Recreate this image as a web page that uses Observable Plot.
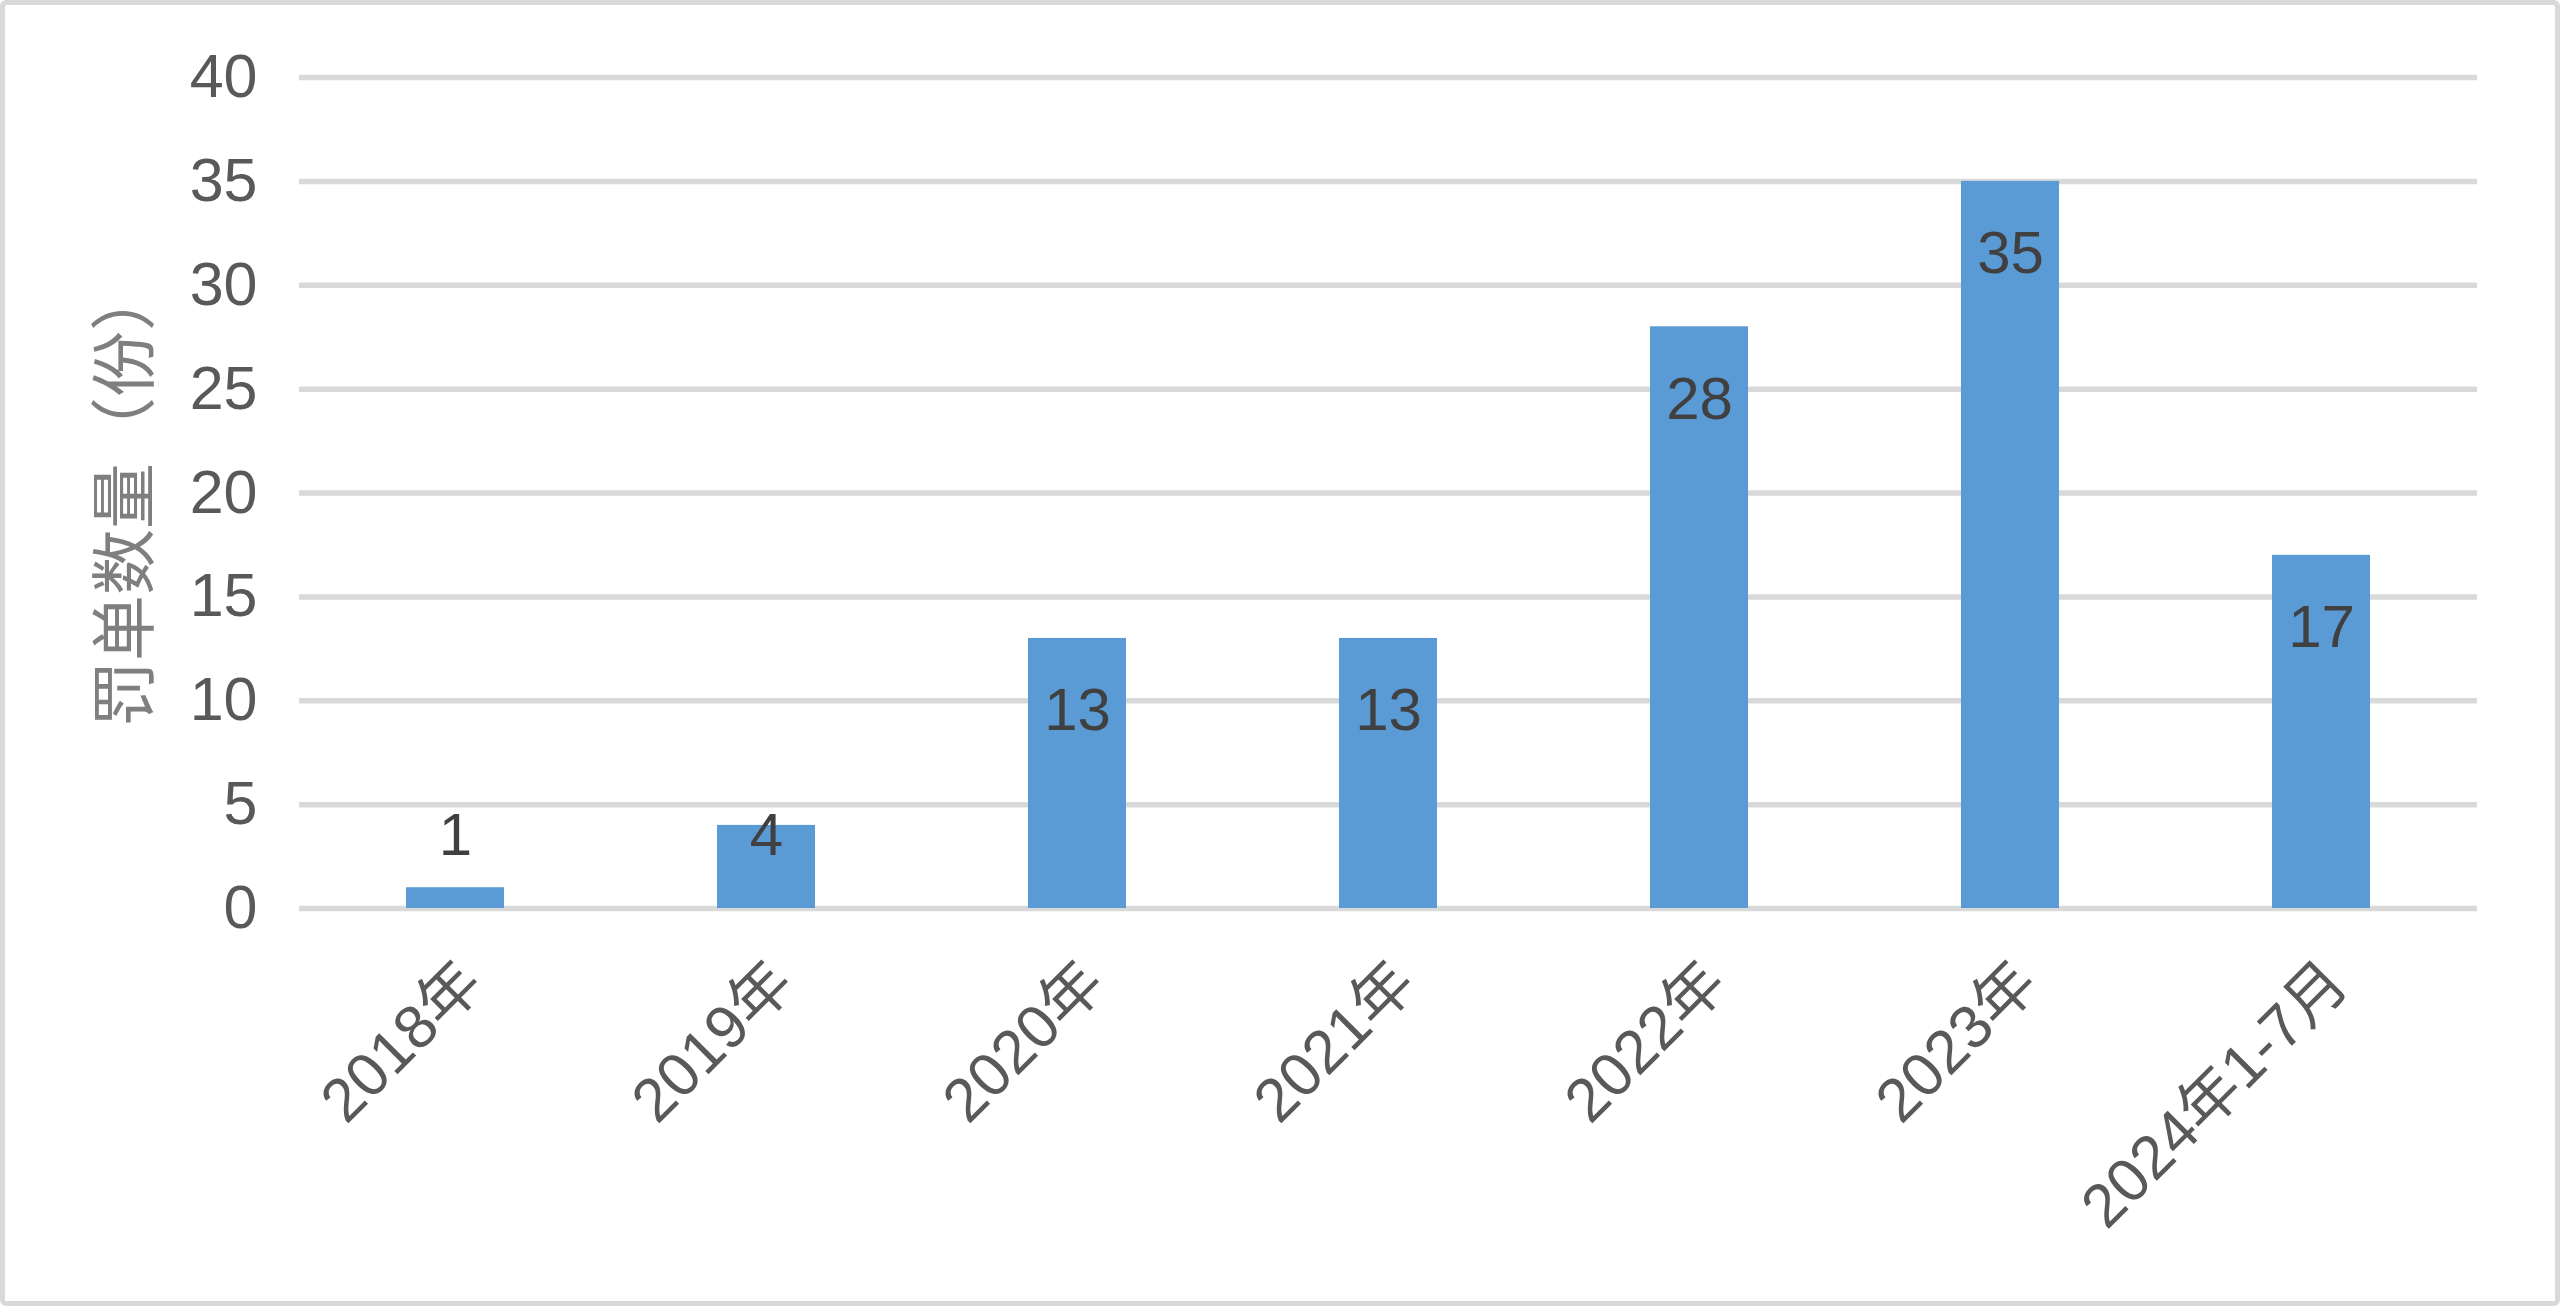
<!DOCTYPE html>
<html>
<head>
<meta charset="utf-8">
<script src="https://cdn.jsdelivr.net/npm/d3@7"></script>
<script src="https://cdn.jsdelivr.net/npm/@observablehq/plot@0.6"></script>
<style>
  html, body { margin: 0; padding: 0; background: #fff; }
  #wrap { position: relative; width: 2560px; height: 1306px; overflow: hidden; }
  #wrap svg { position: absolute; left: 0; top: 0; }
  #border { position: absolute; left: 0; top: 0; width: 2560px; height: 1306px; box-sizing: border-box;
            border: 5px solid #d9d9d9; border-radius: 6px; pointer-events: none; }
</style>
</head>
<body>
<div id="wrap"><div id="border"></div></div>
<script>
const categories = ["2018年", "2019年", "2020年", "2021年", "2022年", "2023年", "2024年1-7月"];
const values = [1, 4, 13, 13, 28, 35, 17];
const yTicks = [0, 5, 10, 15, 20, 25, 30, 35, 40];
const yLabel = "罚单数量（份）";

const data = categories.map((c, i) => ({cat: c, v: values[i]}));
const font = "'Liberation Sans', Arial, 'Noto Sans CJK SC', sans-serif";

const chart = Plot.plot({
  width: 2560,
  height: 1306,
  marginLeft: 299,
  marginRight: 83,
  marginTop: 77,
  marginBottom: 398,
  style: {fontFamily: font, background: "transparent", overflow: "visible"},
  x: {domain: categories, paddingInner: 0.685, paddingOuter: 0.3425, label: null},
  y: {domain: [0, 40], label: null},
  marks: [
    Plot.ruleY(yTicks, {stroke: "#d9d9d9", strokeWidth: 5.5}),
    Plot.barY(data, {x: "cat", y: "v", fill: "#5b9bd5"}),
    Plot.text(data, {
      x: "cat",
      y: d => Math.max(d.v - 3.5, 3.5),
      text: d => String(d.v),
      fill: "#404040",
      fontSize: 60,
      lineAnchor: "middle"
    }),
    Plot.axisY({
      ticks: yTicks,
      tickSize: 0,
      tickPadding: 42,
      fontSize: 61,
      color: "#595959",
      label: null
    }),
    Plot.axisX({
      tickSize: 0,
      tickPadding: 64,
      tickRotate: -45,
      dx: 16,
      fontSize: 61,
      color: "#595959",
      label: null
    }),
    Plot.text([yLabel], {
      frameAnchor: "left",
      dx: -173,
      dy: 3,
      rotate: -90,
      text: d => d,
      fill: "#7f7f7f",
      fontSize: 66,
      textAnchor: "middle",
      lineAnchor: "middle"
    })
  ]
});
document.getElementById("wrap").insertBefore(chart, document.getElementById("border"));
</script>
</body>
</html>
